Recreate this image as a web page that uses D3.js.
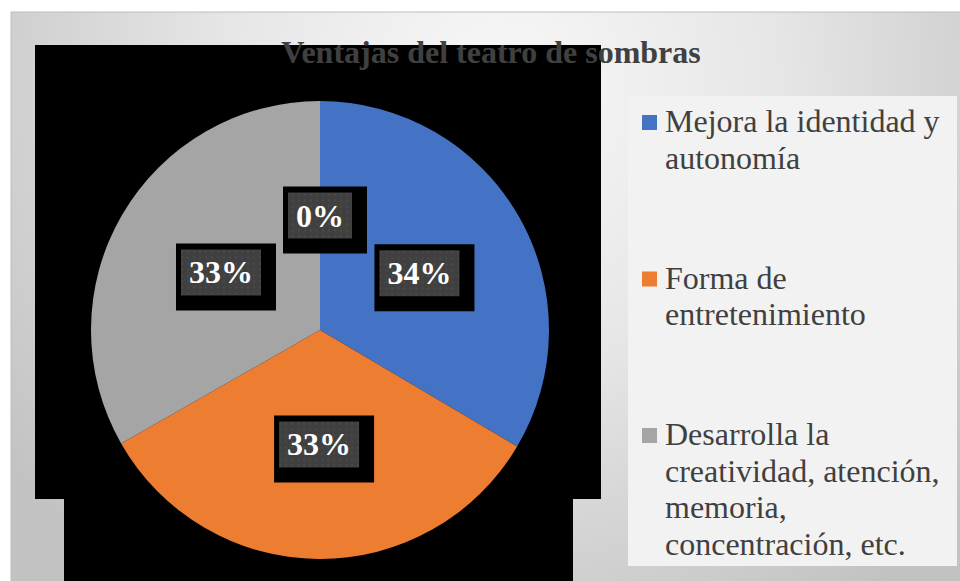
<!DOCTYPE html>
<html>
<head>
<meta charset="utf-8">
<script src="https://cdn.jsdelivr.net/npm/d3@7"></script>
<style>
  body { margin: 0; background: #fff; }
  svg { display: block; }
</style>
</head>
<body>
<div id="chart"></div>
<script>
let width = 960;
let height = 581;

// Chart data
let title = "Ventajas del teatro de sombras";
let categories = [
    "Mejora la identidad y autonomía",
    "Forma de entretenimiento",
    "Desarrolla la creatividad, atención, memoria, concentración, etc."
];
// legend lines as they wrap in the picture
let legendLines = [
    ["Mejora la identidad y", "autonomía"],
    ["Forma de", "entretenimiento"],
    ["Desarrolla la", "creatividad, atención,", "memoria,", "concentración, etc."]
];
// last value is the empty slice that only shows its 0% label
let values = [33.5, 33.25, 33.25, 0];
let colors = ["#4472C4", "#ED7D31", "#A5A5A5", "#FFC000"];

let svg = d3.select("#chart").append("svg")
    .attr("width", width)
    .attr("height", height);

let defs = svg.append("defs");

// radial background of the chart area
let grad = defs.append("radialGradient")
    .attr("id", "bg")
    .attr("gradientUnits", "userSpaceOnUse")
    .attr("cx", 500).attr("cy", 90).attr("r", 620);
grad.append("stop").attr("offset", "0%").attr("stop-color", "#f8f8f8");
grad.append("stop").attr("offset", "45%").attr("stop-color", "#e6e6e6");
grad.append("stop").attr("offset", "100%").attr("stop-color", "#c2c2c2");

// dotted fill of the data label boxes
let pat = defs.append("pattern")
    .attr("id", "dots")
    .attr("patternUnits", "userSpaceOnUse")
    .attr("width", 6).attr("height", 6);
pat.append("rect").attr("width", 6).attr("height", 6).attr("fill", "#404040");
pat.append("rect").attr("x", 2).attr("y", 2).attr("width", 2).attr("height", 2).attr("fill", "#4a4a4a");

svg.append("rect")
    .attr("x", 11).attr("y", 12)
    .attr("width", width).attr("height", height)
    .attr("fill", "url(#bg)")
    .attr("stroke", "#bdbdbd");

// black shapes behind the pie
svg.append("rect").attr("x", 35).attr("y", 45).attr("width", 566).attr("height", 454).attr("fill", "#000");
svg.append("rect").attr("x", 64).attr("y", 498).attr("width", 509).attr("height", 90).attr("fill", "#000");

svg.append("text")
    .attr("x", 491).attr("y", 63)
    .attr("text-anchor", "middle")
    .attr("font-family", "'Liberation Serif', 'Times New Roman', serif")
    .attr("font-weight", "bold")
    .attr("font-size", 32)
    .attr("fill", "#404040")
    .text(title);

// Pie
let cx = 320, cy = 330, radius = 229;

let pie = d3.pie().sort(null).value(d => d);
let arcs = pie(values);
let arc = d3.arc().innerRadius(0).outerRadius(radius);

let g = svg.append("g").attr("transform", "translate(" + cx + "," + cy + ")");

g.selectAll(".slice")
    .data(arcs)
    .enter()
    .append("path")
    .attr("class", "slice")
    .attr("d", arc)
    .attr("fill", (d, i) => colors[i]);

// Data labels
let labels = g.selectAll(".label")
    .data(arcs)
    .enter()
    .append("g")
    .attr("class", "label")
    .attr("transform", d => "translate(" + arc.centroid(d) + ")");

labels.each(function(d) {
    let lg = d3.select(this);
    let txt = Math.round(d.value / d3.sum(values) * 100) + "%";
    let t = lg.append("text")
        .attr("text-anchor", "middle")
        .attr("y", 11)
        .attr("font-family", "'Liberation Serif', 'Times New Roman', serif")
        .attr("font-weight", "bold")
        .attr("font-size", 32)
        .attr("fill", "#fff")
        .text(txt);
    let w = t.node().getComputedTextLength() + 16;
    let h = 46;
    lg.insert("rect", "text")
        .attr("x", -w / 2 - 5).attr("y", -h / 2 - 6)
        .attr("width", w + 20).attr("height", h + 21)
        .attr("fill", "#000");
    lg.insert("rect", "text")
        .attr("x", -w / 2).attr("y", -h / 2)
        .attr("width", w).attr("height", h)
        .attr("fill", "url(#dots)");
});

// Legend
svg.append("rect")
    .attr("x", 628).attr("y", 96)
    .attr("width", 329).attr("height", 470)
    .attr("fill", "#f2f2f2");

let legend = svg.selectAll(".legend")
    .data(categories)
    .enter()
    .append("g")
    .attr("class", "legend")
    .attr("transform", (d, i) => "translate(642," + (132 + i * 156.5) + ")");

legend.append("rect")
    .attr("x", 0).attr("y", -17)
    .attr("width", 15).attr("height", 15)
    .attr("fill", (d, i) => colors[i]);

legend.append("text")
    .attr("x", 23)
    .attr("font-family", "'Liberation Serif', 'Times New Roman', serif")
    .attr("font-size", 32)
    .attr("fill", "#404040")
    .selectAll("tspan")
    .data((d, i) => legendLines[i])
    .enter()
    .append("tspan")
    .attr("x", 23)
    .attr("dy", (d, j) => j === 0 ? 0 : 36.6)
    .text(d => d);
</script>
</body>
</html>
